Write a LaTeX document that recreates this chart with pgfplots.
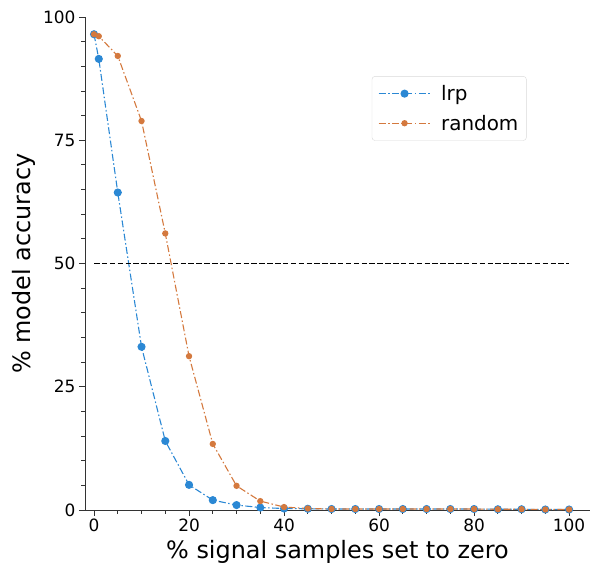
\documentclass[border=0pt]{standalone}
\usepackage{pgfplots}
\pgfplotsset{compat=1.18}
\usepackage{fontspec}
\setmainfont{DejaVu Sans}
\definecolor{lrpblue}{RGB}{43,136,212}
\definecolor{randorange}{RGB}{212,121,62}
\begin{document}
\begin{tikzpicture}
\begin{axis}[
  width=505bp, height=493bp, scale only axis,
  xmin=-1.9, xmax=104.4, ymin=0, ymax=100,
  axis x line*=bottom, axis y line*=left,
  axis line style={-, line width=0.9pt, black!80},
  xtick={0,20,...,100}, ytick={0,25,50,75,100},
  minor xtick={5,10,...,95}, minor ytick={5,10,...,95},
  tick align=outside, tick pos=left,
  major tick length=6bp, minor tick length=3.5bp,
  every tick/.style={black!80, line width=0.8pt},
  /pgf/number format/assume math mode=true,
  ticklabel style={font=\fontsize{17}{19}\selectfont},
  xticklabel style={yshift=1bp},
  xlabel={\% signal samples set to zero},
  ylabel={\% model accuracy},
  label style={font=\fontsize{24}{28}\selectfont},
  xlabel style={yshift=-2bp},
  ylabel style={yshift=1bp},
  legend style={at={(0.568,0.880)}, anchor=north west, draw=black!15, rounded corners=3pt,
    font=\fontsize{20}{24}\selectfont, row sep=9pt, column sep=8bp,
    inner xsep=6pt, inner ysep=7pt},
  legend cell align=left,
  legend image code/.code={\draw[mark repeat=2,mark phase=2] plot coordinates {(0bp,0bp) (26bp,0bp) (52bp,0bp)};},
  clip=false,
]
\coordinate (O) at (rel axis cs:0,0);
\addplot[lrpblue, line width=1.1pt, dash pattern=on 7pt off 2.5pt on 1.5pt off 2.5pt,
  mark=*, mark size=3.5pt, mark options={solid}] coordinates {
  (0,96.5) (1,91.5) (5,64.4) (10,33.1) (15,14.0) (20,5.1) (25,2.0) (30,1.0) (35,0.5)
  (40,0.3) (45,0.25) (50,0.2) (55,0.2) (60,0.2) (65,0.2) (70,0.2) (75,0.2) (80,0.2)
  (85,0.15) (90,0.15) (95,0.1) (100,0.1)
};
\addlegendentry{lrp}
\addplot[randorange, line width=1.1pt, dash pattern=on 7pt off 2.5pt on 1.5pt off 2.5pt,
  mark=*, mark size=2.6pt, mark options={solid}] coordinates {
  (0,96.5) (1,96.1) (5,92.1) (10,78.9) (15,56.1) (20,31.2) (25,13.4) (30,4.9) (35,1.8)
  (40,0.6) (45,0.3) (50,0.2) (55,0.2) (60,0.2) (65,0.2) (70,0.2) (75,0.2) (80,0.2)
  (85,0.15) (90,0.15) (95,0.1) (100,0.1)
};
\addlegendentry{random}
\addplot[black, line width=0.9pt, dash pattern=on 5.5pt off 2.4pt, forget plot] coordinates {(0,50) (100,50)};
\end{axis}
\pgfresetboundingbox
\path (O) ++(-85bp,-61bp) rectangle ++(592bp,571bp);
\end{tikzpicture}
\end{document}
